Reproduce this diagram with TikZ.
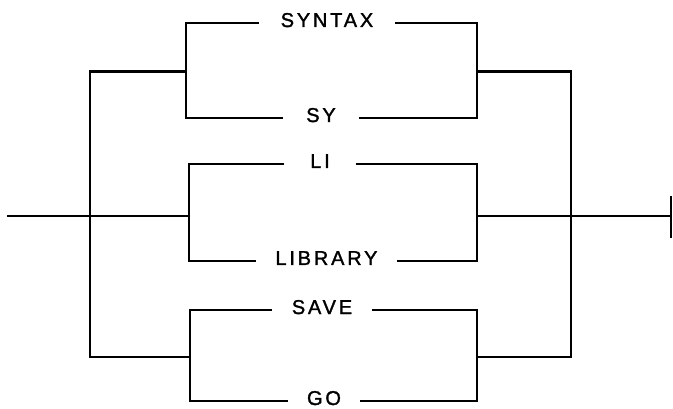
\documentclass[tikz,border=0pt]{standalone}
\usepackage{fontspec}
\setmainfont{Liberation Sans}
\newfontfamily\lbfont[LetterSpace=14,FakeBold=1.5]{Liberation Sans}
\begin{document}
\begin{tikzpicture}[x=1pt,y=-1pt,
  ln/.style={line width=2.8pt, line join=miter},
  lbl/.style={font=\lbfont\fontsize{20}{24}\selectfont, inner sep=0pt, anchor=base, text height=14pt, text depth=0pt}]
\useasboundingbox (0,0) rectangle (673,409);
% coordinates
\coordinate (start) at (7,216);
\coordinate (endb) at (671,216);
\coordinate (endtop) at (671,196);
\coordinate (endbot) at (671,238);
\coordinate (BLt) at (90,71.5);
\coordinate (BLb) at (90,357);
\coordinate (BRt) at (571,71.5);
\coordinate (BRb) at (571,357);
\coordinate (g1lt) at (186,23);  \coordinate (g1lb) at (186,118);
\coordinate (g1rt) at (477,23);  \coordinate (g1rb) at (477,118);
\coordinate (g2lt) at (189,164); \coordinate (g2lb) at (189,261);
\coordinate (g2rt) at (477,164); \coordinate (g2rb) at (477,261);
\coordinate (g3lt) at (190,310); \coordinate (g3lb) at (190,401);
\coordinate (g3rt) at (477,310); \coordinate (g3rb) at (477,401);
% labels
\node[lbl, minimum width=136pt] (syntax) at (327,27) {SYNTAX};
\node[lbl, minimum width=75pt]  (sy)     at (321,122) {SY};
\node[lbl, minimum width=71pt]  (li)     at (320,168) {LI};
\node[lbl, minimum width=141pt] (library) at (326.5,265) {LIBRARY};
\node[lbl, minimum width=100pt] (save)   at (322,314) {SAVE};
\node[lbl, minimum width=71pt]  (go)     at (324,405) {GO};
% group 1
\draw[ln] (syntax.west |- g1lt) -- (g1lt) -- (g1lb) -- (sy.west |- g1lb);
\draw[ln] (syntax.east |- g1rt) -- (g1rt) -- (g1rb) -- (sy.east |- g1rb);
% group 2
\draw[ln] (li.west |- g2lt) -- (g2lt) -- (g2lb) -- (library.west |- g2lb);
\draw[ln] (li.east |- g2rt) -- (g2rt) -- (g2rb) -- (library.east |- g2rb);
% group 3
\draw[ln] (save.west |- g3lt) -- (g3lt) -- (g3lb) -- (go.west |- g3lb);
\draw[ln] (save.east |- g3rt) -- (g3rt) -- (g3rb) -- (go.east |- g3rb);
% big brackets
\draw[ln] (g1lt |- BLt) -- (BLt) -- (BLb) -- (g3lt |- BLb);
\draw[ln] (g1rt |- BRt) -- (BRt) -- (BRb) -- (g3rt |- BRb);
% main line
\draw[ln] (start) -- (g2lt |- start);
\draw[ln] (g2rt |- start) -- (endb);
\draw[ln] (endtop) -- (endbot);
\end{tikzpicture}
\end{document}
